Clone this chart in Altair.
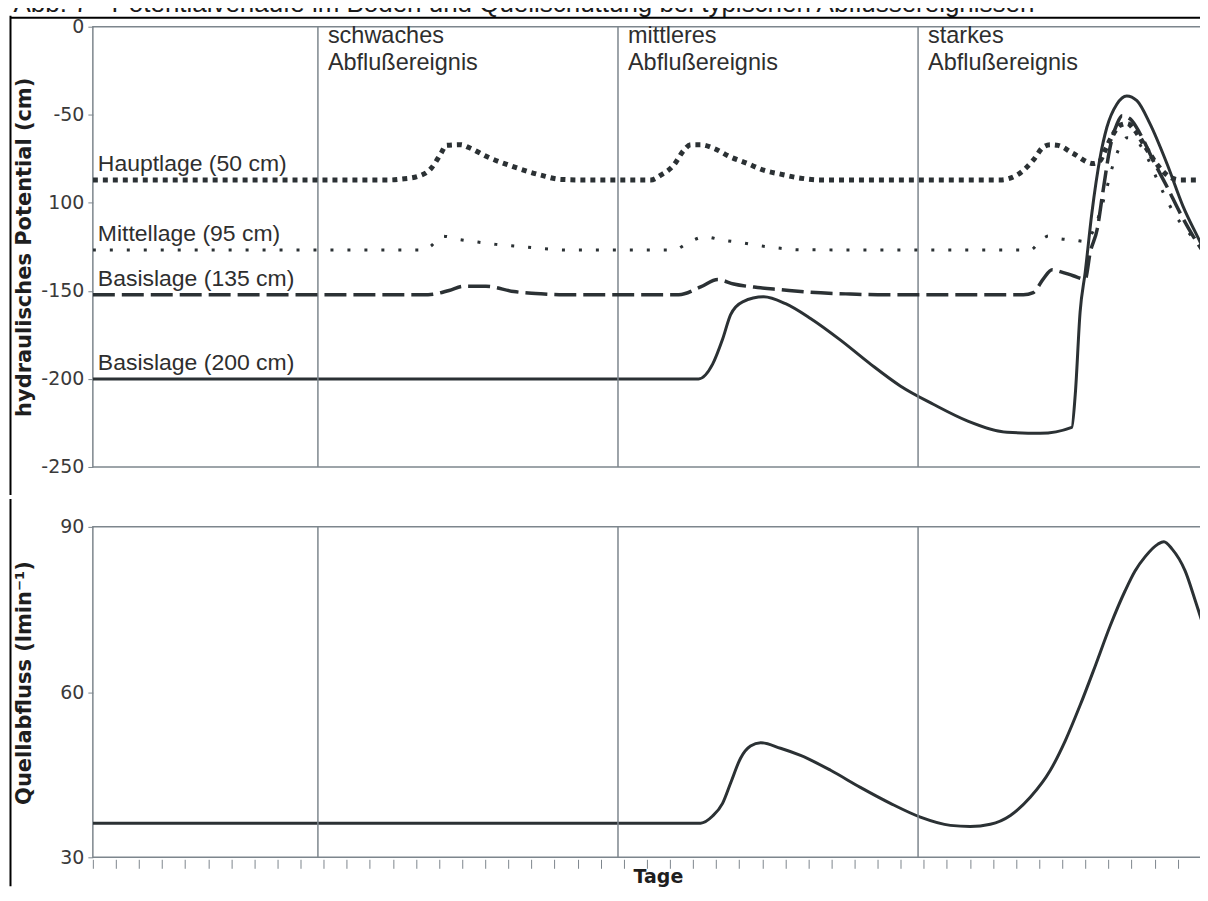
import altair as alt
import pandas as pd

# ---------------- data (x in days / tick units) ----------------
TITLE = "Abb. 7 - Potentialverläufe im Boden und Quellschüttung bei typischen Abflussereignissen"

hauptlage_50 = [(0, -87), (12.9, -87), (13.35, -86.5), (14.08, -85), (14.65, -80.5), (15.08, -72),
                (15.3, -67.4), (15.95, -67), (16.25, -68.4), (17.11, -74), (18.24, -79.6), (19.41, -84.3),
                (20.27, -86.7), (21.14, -87), (24.17, -87), (24.6, -84.3), (25.16, -78.7), (25.6, -70.2),
                (25.9, -67), (26.33, -67), (26.89, -69), (27.63, -74), (28.36, -77.7), (29.06, -81.5),
                (29.79, -83.7), (30.66, -86), (31.52, -87), (39.31, -87), (40.03, -84.3), (40.74, -75.8),
                (41.17, -68.4), (41.48, -67), (41.82, -67.4), (42.47, -72), (43.34, -77.7), (43.64, -76),
                (43.86, -70), (44.16, -62), (44.5, -56), (44.81, -55), (45.15, -59), (45.59, -68),
                (46.15, -79), (46.67, -85.5), (47.1, -87), (48.31, -87)]

mittellage_95 = [(0, -126.8), (14.4, -126.8), (14.65, -124.5), (15.15, -118.9), (15.86, -120.8),
                 (16.68, -122.3), (17.46, -123.6), (18.24, -124.5), (19.06, -125.5), (19.84, -126.4),
                 (20.5, -126.8), (25.16, -126.8), (25.81, -122.5), (26.5, -119.3), (27.28, -121.2),
                 (28.06, -122.6), (28.8, -124.2), (29.58, -125.5), (30.66, -126.7), (40.61, -126.8),
                 (41.04, -121.7), (41.39, -118.9), (41.91, -120.4), (42.56, -121.3), (42.99, -122),
                 (43.43, -113), (43.86, -95), (44.16, -80), (44.5, -68), (44.81, -63), (45.15, -64),
                 (45.59, -72), (46.15, -88), (46.67, -102), (47.1, -111), (47.54, -118), (48.31, -126)]

basislage_135 = [(0, -152.2), (14.52, -152.2), (15.43, -149.8), (16.07, -147.4), (17.03, -147.4),
                 (18.24, -150.4), (19.41, -151.7), (20.4, -152.2), (25.38, -152.2), (26.33, -147.8),
                 (27.07, -143.6), (27.76, -146.1), (28.8, -148.1), (29.79, -149.3), (31.09, -150.8),
                 (32.82, -151.8), (34.0, -152.2), (40.31, -152.2), (40.74, -151), (41.17, -143.3),
                 (41.56, -138), (41.91, -139.1), (42.47, -141.4), (42.99, -143.3), (43.21, -128),
                 (43.51, -115), (43.77, -92.7), (44.07, -68.4), (44.37, -55.2), (44.59, -50.6),
                 (44.94, -52.4), (45.37, -60.8), (45.93, -75.8), (46.54, -91), (47.1, -105.7),
                 (47.67, -119), (48.31, -132)]

basislage_200 = [(0, -200), (26.24, -200), (26.85, -191.6), (27.28, -177.5), (27.63, -163.5),
                 (28.15, -156.2), (29.06, -153.4), (30.01, -157.3), (31.09, -165.7), (32.39, -178),
                 (33.69, -191.6), (34.98, -204), (36.41, -214.4), (37.88, -223.8), (39.61, -230.3),
                 (41.04, -230.9), (42.41, -227.5), (42.56, -208.8), (42.77, -162), (42.99, -139.5),
                 (43.28, -105.8), (43.64, -74), (43.93, -57.1), (44.36, -44), (44.79, -39.3),
                 (45.23, -42), (45.8, -55.2), (46.53, -77.7), (47.23, -102), (47.98, -122.6),
                 (48.31, -132)]

quellabfluss = [(0, 36.2), (26.33, 36.2), (26.85, 37.5), (27.28, 39.8), (27.63, 43.5), (28.06, 48.0),
                (28.49, 50.2), (28.93, 50.8), (29.79, 49.8), (30.66, 48.5), (31.96, 45.8), (33.25, 42.7),
                (34.55, 39.8), (35.85, 37.3), (37.15, 35.8), (38.01, 35.6), (38.88, 36.0), (39.75, 37.6),
                (40.61, 40.9), (41.48, 45.8), (42.13, 51.2), (42.77, 57.6), (43.43, 64.8), (44.07, 72),
                (44.72, 78.4), (45.15, 82), (45.59, 84.6), (46.15, 86.9), (46.4, 87.3), (46.75, 86.0),
                (47.32, 82.0), (47.76, 76.6), (48.31, 69.3)]

event_days = [9.75, 22.75, 35.75]
event_line1 = ["schwaches", "mittleres", "starkes"]
event_line2 = ["Abflußereignis", "Abflußereignis", "Abflußereignis"]
event_y1 = [-9.1, -9.1, -9.1]
event_y2 = [-24.6, -24.6, -24.6]

label_text = ["Hauptlage (50 cm)", "Mittellage (95 cm)", "Basislage (135 cm)", "Basislage (200 cm)"]
label_y = [-87, -126.8, -152.2, -200]
label_x = [0, 0, 0, 0]

top_ticks = [0, -50, -100, -150, -200, -250]
bottom_ticks = [30, 60, 90]
day_ticks = list(range(0, 49))
x_domain = [0, 48.31]

# ---------------- styling ----------------
W, H1, H2 = 1117, 441, 331
LINE = "#2b3134"
GRID = "#7d868d"
TXT = "#2e2e2e"

xs = alt.Scale(domain=x_domain, nice=False, zero=False)
ys1 = alt.Scale(domain=[-250, 0], nice=False, zero=False)
ys2 = alt.Scale(domain=[30, 90], nice=False, zero=False)


def pdf(pairs):
    return pd.DataFrame(pairs, columns=["t", "v"])


def yaxis(values, title, titley, expr):
    return alt.Axis(values=values, labelExpr=expr, domain=False, grid=False,
                    ticks=True, tickSize=5, tickColor=GRID, tickWidth=1,
                    labelFont="DejaVu Sans", labelFontSize=19, labelColor="#3a3a3a",
                    labelPadding=4, title=title, titleFont="DejaVu Sans",
                    titleFontWeight="bold", titleFontSize=21, titleColor="#1e1e1e",
                    titleAngle=270, titleX=-58, titleY=titley, titleBaseline="bottom",
                    titleAlign="center")


top_axis = yaxis(top_ticks, "hydraulisches Potential (cm)", H1 / 2,
                 "datum.value == -100 ? '100' : toString(datum.value)")
bottom_axis = yaxis(bottom_ticks, "Quellabfluss (lmin⁻¹)", 156, "toString(datum.value)")
x_axis = alt.Axis(values=day_ticks, labels=False, domain=False, grid=False, ticks=True, tickSize=9,
                  tickColor=GRID, tickWidth=1, offset=2, title="Tage", titleFont="DejaVu Sans",
                  titleFontWeight="bold", titleFontSize=19, titleColor="#1e1e1e",
                  titleX=566, titleY=17, titleBaseline="middle", titleAlign="center")


def line(pairs, width, dash=None):
    kw = dict(interpolate="monotone", clip=True, color=LINE, strokeWidth=width, strokeCap="butt",
              strokeJoin="round")
    if dash:
        kw["strokeDash"] = dash
    return alt.Chart(pdf(pairs)).mark_line(**kw).encode(
        x=alt.X("t:Q", scale=xs, axis=None),
        y=alt.Y("v:Q", scale=ys1, axis=top_axis))


sep_df = pd.DataFrame({"t": event_days})


def separators(axis):
    return alt.Chart(sep_df).mark_rule(color=GRID, strokeWidth=1.5).encode(
        x=alt.X("t:Q", scale=xs, axis=axis))


# ---------------- top panel ----------------
l200 = line(basislage_200, 3)
l135 = line(basislage_135, 3.5, dash=[22, 7])
l95 = line(mittellage_95, 3, dash=[3, 14])
l50 = line(hauptlage_50, 5, dash=[5, 5])

ev_df = pd.DataFrame({"t": event_days, "a": event_line1, "b": event_line2,
                      "y1": event_y1, "y2": event_y2})
ev1 = alt.Chart(ev_df).mark_text(align="left", baseline="alphabetic", dx=10, font="Liberation Sans",
                                 fontSize=23.5, color=TXT).encode(
    x=alt.X("t:Q", scale=xs, axis=None), y=alt.Y("y1:Q", scale=ys1, axis=top_axis), text="a:N")
ev2 = alt.Chart(ev_df).mark_text(align="left", baseline="alphabetic", dx=10, font="Liberation Sans",
                                 fontSize=23.5, color=TXT).encode(
    x=alt.X("t:Q", scale=xs, axis=None), y=alt.Y("y2:Q", scale=ys1, axis=top_axis), text="b:N")

lab_df = pd.DataFrame({"t": label_x, "v": label_y, "txt": label_text})
labs = alt.Chart(lab_df).mark_text(align="left", baseline="alphabetic", dx=5, dy=-9,
                                   font="Liberation Sans", fontSize=23, color=TXT).encode(
    x=alt.X("t:Q", scale=xs, axis=None), y=alt.Y("v:Q", scale=ys1, axis=top_axis), text="txt:N")

title_df = pd.DataFrame({"txt": [TITLE]})
title = alt.Chart(title_df).mark_text(align="left", baseline="alphabetic", font="Liberation Sans",
                                      fontSize=26, color="#1a1a1a").encode(
    text="txt:N", x=alt.value(-79.5), y=alt.value(-15))

frame_top = alt.Chart(title_df).mark_rule(color="black", strokeWidth=2).encode(
    x=alt.value(-83), x2=alt.value(W), y=alt.value(-9))
frame_left1 = alt.Chart(title_df).mark_rule(color="black", strokeWidth=2, strokeCap="square").encode(
    x=alt.value(-82.5), y=alt.value(-10), y2=alt.value(H1 + 27))

top = alt.layer(l200, separators(None), l135, l95, l50, ev1, ev2, labs, title, frame_top,
                frame_left1).properties(width=W, height=H1)

# ---------------- bottom panel ----------------
q = alt.Chart(pdf(quellabfluss)).mark_line(interpolate="monotone", clip=True, color=LINE,
                                           strokeWidth=3, strokeCap="butt").encode(
    x=alt.X("t:Q", scale=xs, axis=x_axis),
    y=alt.Y("v:Q", scale=ys2, axis=bottom_axis))

frame_left2 = alt.Chart(title_df).mark_rule(color="black", strokeWidth=2, strokeCap="square").encode(
    x=alt.value(-82.5), y=alt.value(-27), y2=alt.value(H2 + 28))

bottom = alt.layer(q, separators(x_axis), frame_left2).properties(width=W, height=H2)

chart = alt.vconcat(top, bottom, spacing=0).properties(
    padding={"left": 0, "right": -10, "top": -19, "bottom": 0},
    background="white",
).configure_view(stroke=GRID, strokeWidth=1.5)

chart.save("out.html", embed_options={"renderer": "svg", "actions": False})
